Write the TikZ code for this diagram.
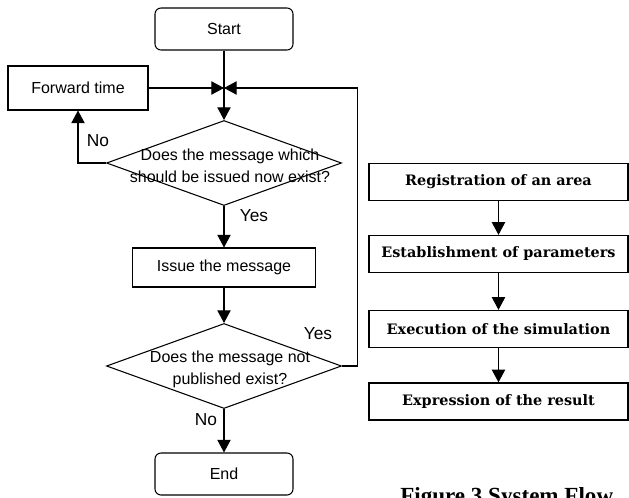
\documentclass[tikz,border=0pt]{standalone}
\usepackage{fontspec}
\newfontfamily\arialfont{Liberation Sans}
\newfontfamily\timesfont{Liberation Serif}
\newfontfamily\schoolfont{DejaVu Serif}
\usepackage{tikz}
\usetikzlibrary{positioning,arrows.meta,shapes.geometric}

\begin{document}
\begin{tikzpicture}[x=0.75pt, y=-0.75pt,
  box/.style={draw, line width=0.8pt, minimum height=31.5pt, inner sep=0pt, align=center,
    font=\arialfont\fontsize{12}{16}\selectfont},
  term/.style={box, rounded corners=4.5pt, minimum width=103.5pt},
  decision/.style={diamond, draw, line width=0.8pt, inner sep=0pt, minimum width=176.25pt, minimum height=63.75pt},
  dtext/.style={align=center, inner sep=0pt, font=\arialfont\fontsize{12}{16.5}\selectfont},
  lbl/.style={inner sep=0pt, font=\arialfont\fontsize{13}{15}\selectfont},
  stepbox/.style={draw, line width=1pt, minimum width=194.25pt, minimum height=27.75pt, inner sep=0pt,
    font=\schoolfont\bfseries\fontsize{10.8}{13}\selectfont},
  arr/.style={-{Triangle[length=9.5pt, width=10pt]}, line width=0.8pt},
]
\useasboundingbox (0,0) rectangle (629,497);

% === Left flow ===
\node[term] (start) at (224,29) {Start};
\node[box, minimum width=105pt, minimum height=33pt] (fwd) at (78,88) {Forward time};
\coordinate (join) at (224,88);
\node[decision, label={[dtext, xshift=4.5pt, yshift=-2.2pt]center:Does the message which\\should be issued now exist?}] (ask1) at (224,163) {};
\node[box, minimum width=137.25pt, minimum height=29.25pt] (issue) at (224,267.5) {Issue the message};
\node[decision, label={[dtext, xshift=4.5pt, yshift=-2.5pt]center:Does the message not\\published exist?}] (ask2) at (224,366) {};
\node[term] (end) at (224,474) {End};

% labels
\node[lbl] (no1) at (98,141) {No};
\node[lbl] (yes1) at (254,216) {Yes};
\node[lbl] (yes2) at (318,334) {Yes};
\node[lbl] (no2) at (206,420) {No};

% arrows
\draw[arr] (start.south) -- (ask1.north);
\draw[arr] (fwd.east) -- (join);
\draw[arr] (ask2.east) -- ++(15,0) |- (join);
\draw[arr] (ask1.west) -| (fwd.south);
\draw[arr] (ask1.south) -- (issue.north);
\draw[arr] (issue.south) -- (ask2.north);
\draw[arr] (ask2.south) -- (end.north);

% === Right flow ===
\node[stepbox] (reg) at (498.5,182) {Registration of an area};
\node[stepbox] (est) at (498.5,254) {Establishment of parameters};
\node[stepbox] (exe) at (498.5,329) {Execution of the simulation};
\node[stepbox] (res) at (498.5,401.5) {Expression of the result};

\draw[arr] (reg) -- (est);
\draw[arr] (est) -- (exe);
\draw[arr] (exe) -- (res);

% caption (cut by the page edge)
\node[anchor=base west, inner sep=0pt, font=\timesfont\bfseries\fontsize{17.3}{20}\selectfont] (caption) at (400,503) {Figure 3 System Flow};

\end{tikzpicture}
\end{document}
